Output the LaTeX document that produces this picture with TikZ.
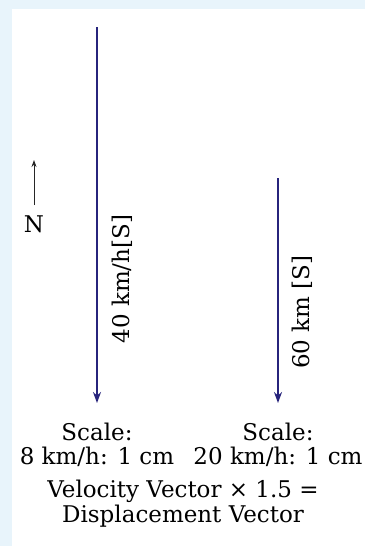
\documentclass[tikz,border=0pt]{standalone}
\usepackage{fontspec}
\setmainfont{DejaVu Serif}
\usepackage{tikz}
\usetikzlibrary{positioning,arrows.meta}
\definecolor{panelblue}{HTML}{E8F4FB}
\definecolor{vecblue}{HTML}{27247C}
\tikzset{
  vec/.style={vecblue,line width=2.2pt,-{Stealth[length=11pt,width=8pt]}},
  lbl/.style={inner sep=0pt,anchor=base,font=\fontsize{23}{27}\selectfont},
}

\begin{document}
\begin{tikzpicture}[x=1pt,y=-1pt]
\useasboundingbox (0,0) rectangle (365,546);
\fill[panelblue] (0,0) rectangle (365,546);
\fill[white] (12,9) rectangle (365,546);
% north marker
\coordinate (ntail) at (34,205);
\coordinate (ntip) at (34,160);
\draw[black!85,line width=0.9pt,-{Stealth[length=7pt,width=5pt]}] (ntail)--(ntip);
\node[lbl] (north) at (34,232) {N};
% velocity vector
\coordinate (vtail) at (97,27);
\coordinate (vtip) at (97,403);
\draw[vec] (vtail)--(vtip);
\node[lbl,rotate=90,anchor=center] (vlabel) at (122,279) {40 km/h[S]};
% displacement vector
\coordinate (dtail) at (278,178);
\coordinate (dtip) at (278,403);
\draw[vec] (dtail)--(dtip);
\node[lbl,rotate=90,anchor=center] (dlabel) at (302,312) {60 km [S]};
% scales
\node[lbl] (vscale) at (97,440) {Scale:};
\node[lbl] (vratio) at (97,464) {8 km/h: 1 cm};
\node[lbl] (dscale) at (278,440) {Scale:};
\node[lbl] (dratio) at (278,464) {20 km/h: 1 cm};
% relation
\node[lbl] (rel1) at (183,497) {Velocity Vector × 1.5 =};
\node[lbl] (rel2) at (183,522) {Displacement Vector};
\end{tikzpicture}
\end{document}
